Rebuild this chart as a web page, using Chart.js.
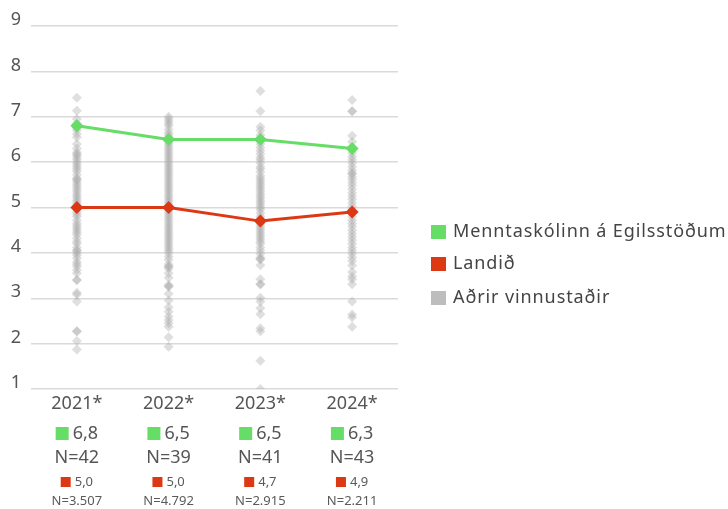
<!DOCTYPE html>
<html lang="is">
<head>
<meta charset="utf-8">
<title>Menntaskólinn á Egilsstöðum</title>
<script src="https://cdn.jsdelivr.net/npm/chart.js@4.4.1/dist/chart.umd.min.js"></script>
<style>
  html, body { margin: 0; padding: 0; background: #ffffff; }
  #wrap { width: 728px; height: 509px; position: relative; }
</style>
</head>
<body>
<div id="wrap"><canvas id="chart" width="728" height="509"></canvas></div>
<script>
// Survey years (x categories)
const years = ['2021*', '2022*', '2023*', '2024*'];

// Average score for the school
const schoolScores = [6.8, 6.5, 6.5, 6.3];
const schoolCounts = [42, 39, 41, 43];

// National average
const nationalScores = [5.0, 5.0, 4.7, 4.9];
const nationalCounts = [3507, 4792, 2915, 2211];

// Averages of other workplaces, one list per year
const others2021 = [7.42, 7.13, 6.95, 6.85, 6.75, 6.7, 6.62, 6.55, 6.4, 6.3, 6.22, 6.18, 6.15, 6.1, 6.05, 6.0,
  5.95, 5.9, 5.85, 5.8, 5.72, 5.65, 5.62, 5.6, 5.55, 5.5, 5.45, 5.4, 5.35, 5.3, 5.25, 5.2, 5.15, 5.1, 5.05,
  4.95, 4.9, 4.85, 4.8, 4.72, 4.65, 4.6, 4.55, 4.5, 4.45, 4.4, 4.32, 4.25, 4.2, 4.12, 4.05, 4.05, 4.0,
  3.95, 3.88, 3.8, 3.75, 3.7, 3.62, 3.55, 3.4, 3.4, 3.12, 3.08, 2.93, 2.27, 2.27, 2.06, 1.87];
const others2022 = [7.0, 6.95, 6.9, 6.85, 6.8, 6.72, 6.65, 6.6, 6.55, 6.45, 6.4, 6.35, 6.3, 6.25, 6.2, 6.15,
  6.1, 6.05, 6.0, 5.95, 5.9, 5.85, 5.8, 5.75, 5.7, 5.65, 5.6, 5.55, 5.5, 5.45, 5.4, 5.35, 5.3, 5.25, 5.2,
  5.15, 5.1, 5.05, 4.95, 4.9, 4.85, 4.8, 4.75, 4.7, 4.65, 4.6, 4.55, 4.5, 4.45, 4.4, 4.35, 4.3, 4.25, 4.2,
  4.15, 4.1, 4.05, 4.0, 3.92, 3.85, 3.75, 3.7, 3.7, 3.65, 3.55, 3.45, 3.3, 3.26, 3.26, 3.1, 2.95, 2.8, 2.7,
  2.6, 2.52, 2.45, 2.37, 2.14, 1.93];
const others2023 = [7.57, 7.12, 6.78, 6.7, 6.6, 6.5, 6.4, 6.32, 6.25, 6.18, 6.1, 6.05, 5.98, 5.9, 5.85, 5.78,
  5.7, 5.65, 5.6, 5.55, 5.5, 5.45, 5.4, 5.35, 5.3, 5.25, 5.2, 5.15, 5.1, 5.05, 5.0, 4.95, 4.88, 4.8, 4.75,
  4.65, 4.6, 4.55, 4.5, 4.45, 4.4, 4.35, 4.3, 4.25, 4.2, 4.12, 4.05, 3.98, 3.9, 3.86, 3.86, 3.73, 3.42,
  3.31, 3.31, 3.01, 2.93, 2.78, 2.65, 2.34, 2.27, 1.62, 1.0];
const others2024 = [7.37, 7.12, 7.12, 6.58, 6.45, 6.28, 6.2, 6.12, 6.05, 5.98, 5.9, 5.82, 5.75, 5.75, 5.68,
  5.62, 5.55, 5.48, 5.4, 5.32, 5.25, 5.18, 5.1, 5.02, 4.95, 4.88, 4.8, 4.72, 4.65, 4.58, 4.5, 4.42, 4.35,
  4.28, 4.2, 4.12, 4.05, 3.98, 3.9, 3.82, 3.72, 3.58, 3.48, 3.42, 3.31, 2.93, 2.64, 2.58, 2.37];
const othersByYear = [others2021, others2022, others2023, others2024];

// Tick values on the score axis
const scoreTicks = [1, 2, 3, 4, 5, 6, 7, 8, 9];

const seriesNames = ['Menntaskólinn á Egilsstöðum', 'Landið', 'Aðrir vinnustaðir'];
const GREEN = '#66dd66';
const RED = '#dd3814';
const GREY = '#bdbdbd';
const FONT = '"Noto Sans", "Open Sans", sans-serif';

const othersPoints = [];
othersByYear.forEach((list, i) => list.forEach(v => othersPoints.push({ x: years[i], y: v })));

const fmt1 = v => v.toFixed(1).replace('.', ',');
const fmtN = n => 'N=' + n.toLocaleString('de-DE');

// Draws the per-year summary under the axis and the legend at the right
const annotations = {
  id: 'annotations',
  afterDraw(chart) {
    const ctx = chart.ctx;
    const xs = chart.scales.x;
    ctx.save();
    ctx.textBaseline = 'middle';
    ctx.textAlign = 'left';
    years.forEach((y, i) => {
      const cx = xs.getPixelForValue(i);
      // school value with green square
      ctx.font = '18px ' + FONT;
      let t = fmt1(schoolScores[i]);
      let tw = ctx.measureText(t).width;
      let sq = 13, gap = 4;
      let left = cx - (sq + gap + tw) / 2;
      ctx.fillStyle = GREEN;
      ctx.fillRect(left, 427, sq, 13);
      ctx.fillStyle = '#555555';
      ctx.fillText(t, left + sq + gap, 434);
      // school count
      ctx.textAlign = 'center';
      ctx.fillText('N=' + schoolCounts[i], cx, 458);
      // national value with red square
      ctx.textAlign = 'left';
      ctx.font = '13px ' + FONT;
      t = fmt1(nationalScores[i]);
      tw = ctx.measureText(t).width;
      sq = 10; gap = 4;
      left = cx - (sq + gap + tw) / 2;
      ctx.fillStyle = RED;
      ctx.fillRect(left, 477, sq, 10);
      ctx.fillStyle = '#5a5a5a';
      ctx.fillText(t, left + sq + gap, 482);
      ctx.textAlign = 'center';
      ctx.fillText(fmtN(nationalCounts[i]), cx, 501);
      ctx.textAlign = 'left';
    });
    // legend
    const colors = [GREEN, RED, GREY];
    const rows = [232, 264, 298];
    ctx.font = '18px ' + FONT;
    ctx.letterSpacing = '0.9px';
    seriesNames.forEach((name, k) => {
      ctx.fillStyle = colors[k];
      ctx.fillRect(431, rows[k] - 7, 15, 14);
      ctx.fillStyle = '#444444';
      ctx.fillText(name, 453, rows[k]);
    });
    ctx.letterSpacing = '0px';
    ctx.restore();
  }
};

new Chart(document.getElementById('chart'), {
  type: 'line',
  data: {
    labels: years,
    datasets: [
      {
        label: seriesNames[0],
        data: schoolScores,
        borderColor: GREEN,
        backgroundColor: GREEN,
        borderWidth: 3,
        pointStyle: 'rectRot',
        pointRadius: 6.5,
        pointBorderWidth: 0,
        order: 1
      },
      {
        label: seriesNames[1],
        data: nationalScores,
        borderColor: RED,
        backgroundColor: RED,
        borderWidth: 3,
        pointStyle: 'rectRot',
        pointRadius: 6.5,
        pointBorderWidth: 0,
        order: 2
      },
      {
        label: seriesNames[2],
        data: othersPoints,
        showLine: false,
        pointStyle: 'rectRot',
        pointRadius: 5,
        pointBorderWidth: 0,
        backgroundColor: 'rgba(170,170,170,0.38)',
        borderColor: 'rgba(0,0,0,0)',
        order: 3
      }
    ]
  },
  options: {
    responsive: false,
    animation: false,
    devicePixelRatio: 1,
    layout: { padding: { top: 26, right: 330, left: 0, bottom: 0 } },
    plugins: { legend: { display: false }, tooltip: { enabled: false } },
    scales: {
      x: {
        type: 'category',
        offset: true,
        grid: { display: false, drawTicks: false },
        border: { display: false },
        ticks: { color: '#555555', font: { family: FONT, size: 18 }, padding: 4 },
        afterFit(scale) { scale.height = 120; }
      },
      y: {
        min: 1,
        max: 9,
        afterBuildTicks(scale) { scale.ticks = scoreTicks.map(v => ({ value: v })); },
        grid: { color: '#dadada', lineWidth: 1.5, drawTicks: false },
        border: { display: false },
        ticks: { color: '#555555', font: { family: FONT, size: 18 }, padding: 10, labelOffset: -6 },
        afterFit(scale) { scale.width = 31; }
      }
    }
  },
  plugins: [annotations]
});
</script>
</body>
</html>
